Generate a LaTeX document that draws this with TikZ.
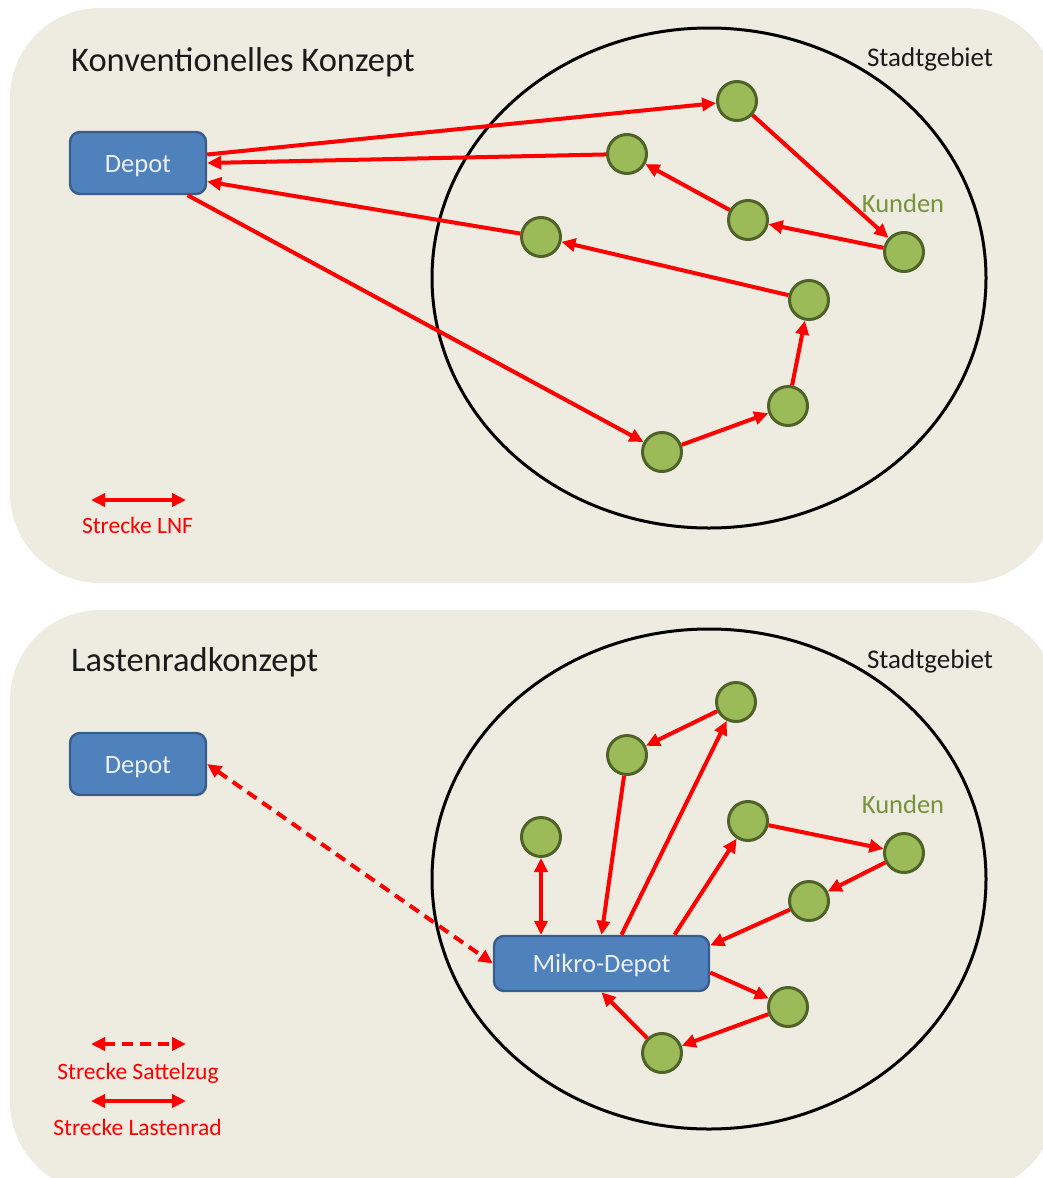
\documentclass[tikz,border=0pt]{standalone}
\usepackage{fontspec}
\setmainfont{Carlito}
\usetikzlibrary{arrows.meta}
\definecolor{panelbg}{HTML}{EEECE1}
\definecolor{boxfill}{HTML}{4F81BD}
\definecolor{boxline}{HTML}{385D8A}
\definecolor{custfill}{HTML}{9BBB59}
\definecolor{custline}{HTML}{4F6228}
\definecolor{kundgreen}{HTML}{77933C}
\definecolor{routered}{HTML}{FF0000}
\definecolor{boxtext}{HTML}{EAF0F8}
\definecolor{darktext}{HTML}{1A1A1A}
\newcommand{\boxtxt}[1]{\raisebox{-9pt}[0pt][0pt]{#1}}
\tikzset{
  panel/.style={fill=panelbg, rounded corners=90pt},
  city/.style={draw=black, line width=3pt},
  depotbox/.style={draw=boxline, fill=boxfill, line width=2.4pt, rounded corners=10pt,
    minimum width=136pt, minimum height=62pt, inner sep=0pt, text=boxtext,
    font=\fontsize{26.5}{30}\selectfont},
  cust/.style={circle, draw=custline, fill=custfill, line width=3pt,
    minimum size=39pt, inner sep=0pt},
  title/.style={anchor=west, inner sep=0pt, text=darktext, font=\fontsize{34.5}{40}\selectfont},
  arealabel/.style={inner sep=0pt, text=darktext, font=\fontsize{27}{32}\selectfont},
  kundlabel/.style={inner sep=0pt, text=kundgreen, font=\fontsize{26.5}{32}\selectfont},
  legendlabel/.style={inner sep=0pt, text=routered, font=\fontsize{23.5}{28}\selectfont},
  route/.style={draw=routered, line width=4pt, -{Triangle[length=14pt,width=13pt]}},
  routeboth/.style={draw=routered, line width=4pt,
    {Triangle[length=14pt,width=13pt]}-{Triangle[length=14pt,width=13pt]}},
  truck/.style={dash pattern=on 11pt off 7pt}
}
\begin{document}
\begin{tikzpicture}[x=1pt,y=-1pt]
\useasboundingbox (0,0) rectangle (1043,1178);
\fill[white] (0,0) rectangle (1043,1178);
\clip (0,0) rectangle (1043,1178);
% panels
\fill[panel] (10,8) rectangle (1056,583);
\fill[panel] (10,610) rectangle (1056,1192);

% ================= top panel =================
\node[title] (t1) at (71,62) {Konventionelles Konzept};
\draw[city] (709,278) ellipse [x radius=277pt, y radius=250pt];
\node[arealabel] (s1) at (930,59) {Stadtgebiet};
\node[kundlabel] (k1) at (903,203) {Kunden};
\node[depotbox] (depA) at (138,163) {\boxtxt{Depot}};
\node[cust] (c1) at (737,101) {};
\node[cust] (c2) at (627,154) {};
\node[cust] (c3) at (748,220) {};
\node[cust] (c4) at (904,252) {};
\node[cust] (c5) at (809,300) {};
\node[cust] (c6) at (541,237) {};
\node[cust] (c7) at (788,406) {};
\node[cust] (c8) at (662,452) {};
\draw[route] (depA.7) -- (c1);
\draw[route] (c1) -- (c4);
\draw[route] (c4) -- (c3);
\draw[route] (c3) -- (c2);
\draw[route] (c2) -- (depA.east);
\draw[route] (depA.-33) -- (c8);
\draw[route] (c8) -- (c7);
\draw[route] (c7) -- (c5);
\draw[route] (c5) -- (c6);
\draw[route] (c6) -- (depA.-15);
% legend
\coordinate (la1) at (91,500);
\coordinate (lb1) at (186,500);
\draw[routeboth] (la1) -- (lb1);
\node[legendlabel] (lt1) at (137.5,525.5) {Strecke LNF};

% ================= bottom panel =================
\node[title] (t2) at (71,662) {Lastenradkonzept};
\draw[city] (709,879) ellipse [x radius=277pt, y radius=250pt];
\node[arealabel] (s2) at (930,661) {Stadtgebiet};
\node[kundlabel] (k2) at (903,804) {Kunden};
\node[depotbox] (depB) at (138,764) {\boxtxt{Depot}};
\node[depotbox, minimum width=215pt, minimum height=55pt] (mik) at (601.5,963.5) {\boxtxt{Mikro-Depot}};
\node[cust] (d1) at (736,702) {};
\node[cust] (d2) at (627,755) {};
\node[cust] (d3) at (541,837) {};
\node[cust] (d4) at (748,821) {};
\node[cust] (d5) at (904,853) {};
\node[cust] (d6) at (809,901) {};
\node[cust] (d7) at (788,1007) {};
\node[cust] (d8) at (662,1053) {};
\draw[routeboth, truck] (depB.east) -- (mik.west);
\draw[routeboth] (d3) -- (d3 |- mik.north);
\draw[route] (d2) -- (mik.north);
\draw[route] ([xshift=20pt]mik.north) -- (d1);
\draw[route] (d1) -- (d2);
\draw[route] ([xshift=73pt]mik.north) -- (d4);
\draw[route] (d4) -- (d5);
\draw[route] (d5) -- (d6);
\draw[route] (d6) -- ([yshift=18pt]mik.east);
\draw[route] ([yshift=-9pt]mik.east) -- (d7);
\draw[route] (d7) -- (d8);
\draw[route] (d8) -- (mik.south);
% legend
\coordinate (la2) at (91,1044);
\coordinate (lb2) at (186,1044);
\draw[routeboth, truck] (la2) -- (lb2);
\node[legendlabel] (lt2) at (138,1073) {Strecke Sattelzug};
\coordinate (la3) at (91,1101);
\coordinate (lb3) at (186,1101);
\draw[routeboth] (la3) -- (lb3);
\node[legendlabel] (lt3) at (137.5,1127.5) {Strecke Lastenrad};
\end{tikzpicture}
\end{document}
